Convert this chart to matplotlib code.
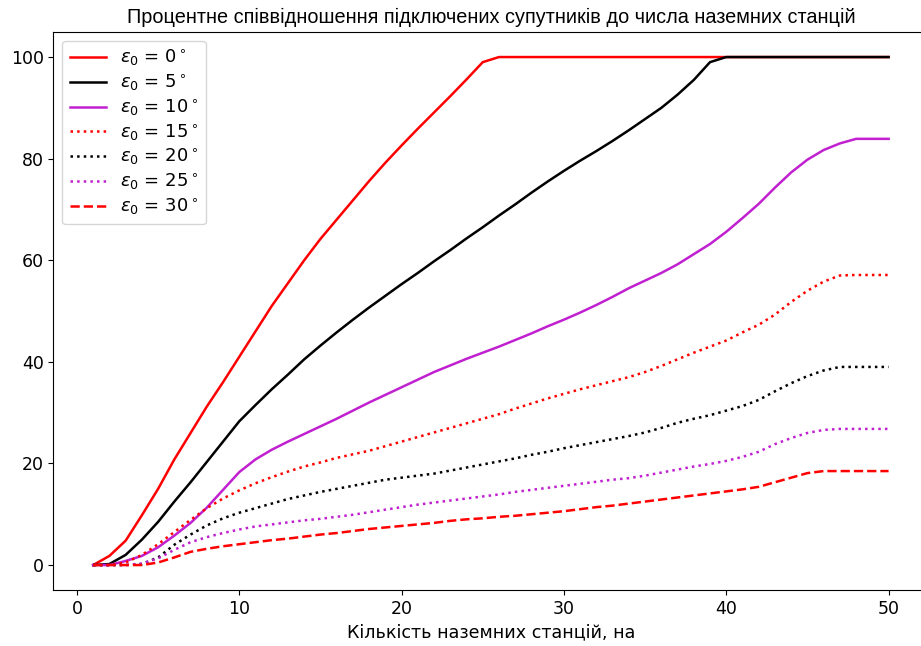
import numpy as np
import matplotlib.pyplot as plt

# number of ground stations
stations = np.arange(1, 51)

# percentage of connected satellites for each minimum elevation angle
eps_0 = [0, 1.8, 4.8, 9.8, 15, 20.8, 26, 31.2, 36, 41, 46, 51, 55.5, 60, 64.2, 68, 71.8, 75.6, 79.2, 82.6,
         85.9, 89.1, 92.3, 95.6, 99] + [100] * 25
eps_5 = [0, 0.2, 2, 5, 8.5, 12.5, 16.3, 20.3, 24.3, 28.3, 31.5, 34.6, 37.5, 40.5, 43.2, 45.8, 48.3, 50.7, 53, 55.3,
         57.5, 59.8, 62, 64.3, 66.5, 68.8, 71, 73.3, 75.5, 77.6, 79.6, 81.5, 83.5, 85.6, 87.8, 90, 92.6, 95.5, 99] + [100] * 11
eps_10 = [0, 0, 0.8, 1.8, 3.5, 5.8, 8.3, 11.3, 14.8, 18.3, 20.8, 22.7, 24.3, 25.8, 27.3, 28.8, 30.4, 32, 33.5, 35,
          36.5, 38, 39.3, 40.6, 41.8, 43, 44.3, 45.6, 47, 48.3, 49.7, 51.2, 52.8, 54.5, 56, 57.5, 59.2, 61.2, 63.2, 65.6,
          68.3, 71.1, 74.3, 77.3, 79.8, 81.7, 83, 83.9, 83.9, 83.9]
eps_15 = [0, 0, 0.5, 2, 4.1, 6.5, 8.9, 11.2, 13.1, 14.7, 16.1, 17.3, 18.4, 19.4, 20.2, 21.1, 21.8, 22.5, 23.4, 24.3,
          25.2, 26.1, 27, 27.9, 28.8, 29.7, 30.8, 31.8, 32.8, 33.7, 34.6, 35.4, 36.2, 37, 38, 39.2, 40.5, 41.8, 43, 44.2,
          45.8, 47.3, 49.3, 51.8, 54, 55.8, 57, 57.1, 57.1, 57.1]
eps_20 = [0, 0, 0, 0.2, 1.5, 4, 6, 7.8, 9.2, 10.3, 11.2, 12.1, 13, 13.7, 14.4, 15, 15.6, 16.2, 16.8, 17.2,
          17.6, 18, 18.6, 19.2, 19.8, 20.4, 21, 21.7, 22.3, 23, 23.6, 24.2, 24.8, 25.4, 26.1, 27, 28, 28.8, 29.5, 30.4,
          31.3, 32.5, 34.2, 35.8, 37.2, 38.3, 39, 39, 39, 39]
eps_25 = [0, 0, 0, 0.3, 1.3, 3, 4.5, 5.5, 6.3, 7, 7.6, 8, 8.4, 8.8, 9.1, 9.5, 9.9, 10.4, 10.9, 11.4,
          11.9, 12.3, 12.7, 13.1, 13.5, 13.9, 14.4, 14.8, 15.2, 15.6, 16, 16.4, 16.8, 17.1, 17.6, 18.2, 18.8, 19.4, 19.9, 20.5,
          21.3, 22.3, 23.8, 25, 26, 26.6, 26.8, 26.8, 26.8, 26.8]
eps_30 = [0, 0, 0, 0, 0.5, 1.5, 2.6, 3.2, 3.7, 4.1, 4.5, 4.9, 5.2, 5.6, 6, 6.3, 6.7, 7.1, 7.4, 7.7,
          8, 8.3, 8.7, 9, 9.2, 9.5, 9.7, 10, 10.3, 10.6, 11, 11.4, 11.7, 12.1, 12.5, 12.9, 13.3, 13.7, 14.1, 14.5,
          14.9, 15.4, 16.3, 17.2, 18.1, 18.5, 18.5, 18.5, 18.5, 18.5]

angles = [0, 5, 10, 15, 20, 25, 30]
series = [eps_0, eps_5, eps_10, eps_15, eps_20, eps_25, eps_30]
colors = ['red', 'black', '#c020d0', 'red', 'black', '#c020d0', 'red']
styles = ['-', '-', '-', ':', ':', ':', '--']

fig = plt.figure(figsize=(9.21, 6.46), dpi=100)
# right spine falls just outside the picture, as in the source image
ax = fig.add_axes([0.058, 0.086, 0.950, 0.865])
for a, s, c, ls in zip(angles, series, colors, styles):
    ax.plot(stations, s, color=c, linestyle=ls, linewidth=1.8, label=r'$\varepsilon_0$ = ' + str(a) + r'$^\circ$')

ax.set_xticks([0, 10, 20, 30, 40, 50])
ax.set_yticks([0, 20, 40, 60, 80, 100])
ax.tick_params(labelsize=12.5)
ax.set_xlabel('Кількість наземних станцій, на', fontsize=12.6)
ax.set_title('Процентне співвідношення підключених супутників до числа наземних станцій',
             fontsize=14.3, family=['Liberation Sans', 'DejaVu Sans'])
ax.legend(loc='upper left', fontsize=13, labelspacing=0.25, handlelength=2.0,
          borderaxespad=0.5)
fig.savefig('out.png', dpi=100)
